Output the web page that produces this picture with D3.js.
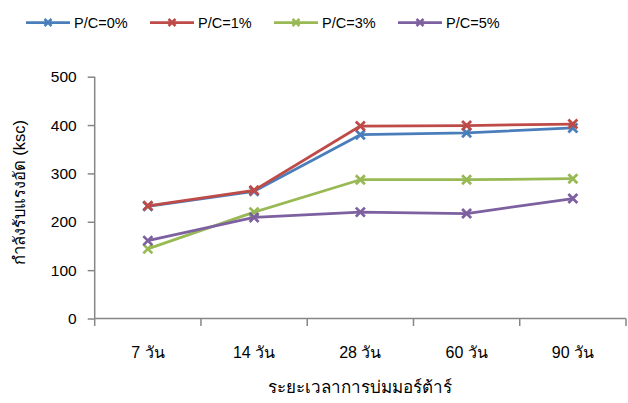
<!DOCTYPE html>
<html>
<head>
<meta charset="utf-8">
<script src="https://cdn.jsdelivr.net/npm/d3@7"></script>
<style>
  html, body { margin: 0; padding: 0; background: #fff; }
  svg { display: block; font-family: "Liberation Sans", Arial, "Noto Sans", sans-serif; }
</style>
</head>
<body>
<svg id="chart" width="628" height="403"></svg>
<script>
// Curing periods (x categories)
const categories = ["7 วัน", "14 วัน", "28 วัน", "60 วัน", "90 วัน"];
// Series names and colours
const seriesNames = ["P/C=0%", "P/C=1%", "P/C=3%", "P/C=5%"];
const seriesColors = ["#4a7ebb", "#be4b48", "#98b954", "#7d60a0"];
// Compressive strength (ksc) for each series
const pc0 = [232, 263, 380, 384, 394];
const pc1 = [233, 265, 398, 399, 402];
const pc3 = [144, 220, 287, 287, 289];
const pc5 = [161, 209, 220, 217, 248];
const yTicks = [0, 100, 200, 300, 400, 500];

const seriesValues = [pc0, pc1, pc3, pc5];

const svg = d3.select("#chart");
const plot = { left: 94.7, right: 626, top: 76.7, bottom: 318.5 };

const x = d3.scaleBand().domain(categories).range([plot.left, plot.right]).padding(0);
const y = d3.scaleLinear().domain([0, 500]).range([plot.bottom, plot.top]);

const axisColor = "#868686";

// Y axis
const yAxis = svg.append("g")
  .attr("transform", `translate(${plot.left},0)`)
  .call(d3.axisLeft(y).tickValues(yTicks).tickSize(7).tickPadding(11).tickFormat(d3.format("d")));
yAxis.select(".domain").attr("stroke", axisColor).attr("stroke-width", 1.5)
  .attr("d", `M0,${plot.top}H0V${plot.bottom}`);
yAxis.selectAll(".tick line").attr("stroke", axisColor).attr("stroke-width", 1.5);
yAxis.selectAll(".tick text").attr("fill", "#000").style("font-size", "15.5px")
  .style("font-family", '"Liberation Sans", Arial, sans-serif');

// X axis with tick marks at category boundaries
const xAxis = svg.append("g").attr("transform", `translate(0,${plot.bottom})`);
xAxis.append("line").attr("x1", plot.left).attr("x2", plot.right)
  .attr("stroke", axisColor).attr("stroke-width", 1.5);
const bounds = categories.map(c => x(c)).concat([plot.right]);
xAxis.selectAll("line.tk").data(bounds).enter().append("line").attr("class", "tk")
  .attr("x1", d => d).attr("x2", d => d).attr("y1", 0).attr("y2", 7.5)
  .attr("stroke", axisColor).attr("stroke-width", 1.5);
xAxis.selectAll("text").data(categories).enter().append("text")
  .attr("x", d => x(d) + x.bandwidth() / 2).attr("y", 39)
  .attr("text-anchor", "middle").attr("fill", "#000").style("font-size", "16px")
  .text(d => d);

// Axis titles
svg.append("text")
  .attr("transform", `translate(25,${(plot.top + plot.bottom) / 2 - 5}) rotate(-90)`)
  .attr("text-anchor", "middle").style("font-size", "16.5px").attr("fill", "#000")
  .text("กำลังรับแรงอัด (ksc)");
svg.append("text")
  .attr("x", (plot.left + plot.right) / 2).attr("y", 393)
  .attr("text-anchor", "middle").style("font-size", "17px").attr("fill", "#000")
  .text("ระยะเวลาการบ่มมอร์ต้าร์");

// Cross marker path
function cross(cx, cy, r) {
  return `M${cx - r},${cy - r}L${cx + r},${cy + r}M${cx - r},${cy + r}L${cx + r},${cy - r}`;
}

const cx = d => x(d) + x.bandwidth() / 2;
const line = d3.line().x((d, i) => cx(categories[i])).y(d => y(d));

seriesValues.forEach((vals, si) => {
  const g = svg.append("g");
  g.append("path").datum(vals).attr("d", line)
    .attr("fill", "none").attr("stroke", seriesColors[si]).attr("stroke-width", 2.75)
    .attr("stroke-linejoin", "round");
  g.selectAll("path.mk").data(vals).enter().append("path").attr("class", "mk")
    .attr("d", (d, i) => cross(cx(categories[i]), y(d), 4.5))
    .attr("stroke", seriesColors[si]).attr("stroke-width", 2.75).attr("fill", "none");
});

// Legend
const legend = svg.append("g");
seriesNames.forEach((name, i) => {
  const lx = 26 + i * 124;
  const ly = 22.5;
  legend.append("line").attr("x1", lx).attr("x2", lx + 44).attr("y1", ly).attr("y2", ly)
    .attr("stroke", seriesColors[i]).attr("stroke-width", 2.75);
  legend.append("path").attr("d", cross(lx + 22, ly, 3.5))
    .attr("stroke", seriesColors[i]).attr("stroke-width", 2.5).attr("fill", "none");
  legend.append("text").attr("x", lx + 48).attr("y", ly + 5)
    .style("font-size", "14.5px").attr("fill", "#000").text(name);
});
</script>
</body>
</html>
